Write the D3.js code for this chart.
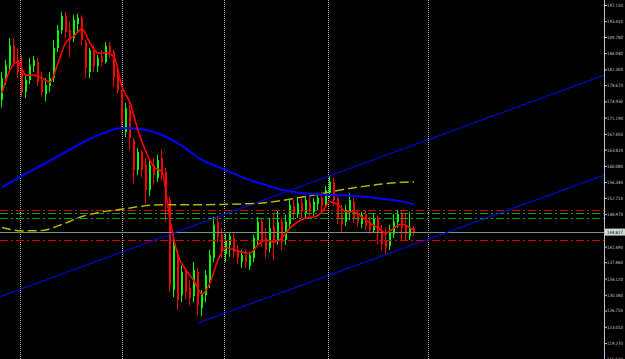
<!DOCTYPE html>
<html>
<head>
<meta charset="utf-8">
<script src="https://d3js.org/d3.v7.min.js"></script>
<style>
  html, body { margin: 0; padding: 0; background: #000; }
  svg { display: block; }
</style>
</head>
<body>
<div id="chart"></div>
<script>
"use strict";

// price bars (one entry per bar)
var open = [175.3,179.9,183.1,187.9,184.5,182.2,177.1,179.9,183.1,184.0,
  179.9,176.6,178.5,180.3,187.2,191.4,194.6,191.4,189.5,192.8,
  194.2,188.6,181.7,186.8,183.1,185.4,184.0,187.7,186.3,180.8,
  177.1,167.9,173.0,166.0,159.1,163.3,160.3,154.5,160.3,157.3,
  161.9,158.7,152.2,131.5,138.9,130.3,135.6,131.9,130.1,135.6,
  127.3,130.3,133.8,138.9,147.2,144.2,139.8,141.9,143.5,140.7,
  137.9,139.5,137.0,138.9,143.0,147.2,143.5,141.2,146.2,143.0,
  147.2,143.0,146.7,150.8,149.0,151.5,149.0,151.8,149.5,151.3,
  152.7,151.3,154.1,156.4,152.7,148.8,147.2,149.5,151.8,148.5,
  146.7,149.0,146.7,145.3,148.1,144.8,143.0,141.6,144.4,147.2,
  149.0,146.2,143.9,145.8];
var high = [181.7,184.5,189.5,189.5,187.2,185.6,181.0,184.9,185.4,184.9,
  181.7,180.3,181.7,189.1,192.5,195.5,195.5,193.2,194.8,195.1,
  194.8,189.1,187.2,187.9,185.6,186.8,188.6,188.6,186.8,182.9,
  177.6,174.6,174.1,166.5,164.2,163.7,161.9,161.4,161.9,162.6,
  163.7,159.6,152.9,143.7,140.7,137.2,136.6,133.8,137.9,136.6,
  131.5,136.1,140.7,148.3,148.5,145.8,144.4,144.8,144.8,141.9,
  140.7,140.7,140.2,144.2,148.3,148.1,145.8,148.1,149.0,149.9,
  148.1,148.8,152.2,152.2,152.7,152.7,153.1,153.1,152.7,153.4,
  154.1,155.4,157.8,157.3,153.1,151.1,151.1,153.8,152.7,149.9,
  149.5,149.9,148.3,149.2,148.8,146.5,145.8,146.5,149.0,149.9,
  149.9,149.0,149.5,146.2];
var low = [173.6,178.7,182.2,183.1,180.3,176.0,175.7,178.9,181.7,178.5,
  176.0,175.0,177.1,179.4,186.3,190.5,189.5,185.2,188.6,190.9,
  187.9,180.3,180.3,181.7,181.7,183.1,183.6,184.9,178.3,176.9,
  169.0,166.7,163.7,156.1,158.0,157.5,151.5,153.1,155.7,156.4,
  156.8,147.2,131.0,129.9,126.9,128.7,129.2,128.0,128.7,125.7,
  125.5,128.7,131.9,137.9,142.5,138.9,137.9,139.1,138.9,137.5,
  136.6,136.6,136.1,137.9,141.9,141.4,138.9,140.2,138.4,141.9,
  140.7,141.9,145.8,147.6,148.1,148.1,148.1,148.5,148.5,149.9,
  149.5,150.4,152.7,150.8,146.7,144.8,146.2,147.6,146.9,146.2,
  145.8,145.3,144.4,144.8,141.9,140.7,139.8,140.7,143.5,145.8,
  143.0,143.0,143.0,143.9];
var close = [180.3,183.3,187.9,184.0,181.7,177.1,179.9,183.3,184.5,179.4,
  177.1,178.7,180.3,187.2,191.4,194.6,190.9,189.1,193.7,194.2,
  189.1,182.6,186.8,183.1,184.9,184.0,187.7,186.3,180.3,177.6,
  170.2,173.4,166.5,159.1,163.3,159.1,154.5,160.3,158.0,161.4,
  158.7,152.2,132.6,141.9,129.2,135.6,131.0,129.6,136.1,128.0,
  130.8,134.9,139.5,146.5,143.5,140.2,143.0,143.9,140.2,138.9,
  139.5,137.9,139.5,143.5,147.2,143.0,140.7,145.8,143.0,147.2,
  142.5,147.2,151.1,149.0,151.5,149.5,152.2,149.5,151.8,152.7,
  150.8,154.5,156.4,152.2,148.1,146.5,149.9,152.2,148.1,147.2,
  148.8,146.2,145.3,148.1,144.8,142.1,141.2,144.8,147.2,149.0,
  145.8,144.4,145.8,144.83];

// indicator lines, [bar, price]
var maFast = [[0,176.9],[2,182.2],[4,184.0],[6,181.0],[8,181.0],[10,180.3],[12,179.4],[14,183.8],
  [16,188.6],[18,190.0],[20,191.6],[22,188.4],[24,186.1],[26,186.1],[28,185.2],[30,178.3],
  [32,174.6],[34,168.3],[36,163.3],[38,159.8],[40,158.7],[42,147.6],[44,139.5],[46,136.1],
  [48,133.6],[50,130.6],[52,133.1],[54,138.4],[56,141.2],[58,140.7],[60,140.2],[62,140.0],
  [64,141.9],[66,143.0],[68,142.5],[70,143.5],[72,145.8],[74,147.2],[76,148.1],[78,148.3],
  [80,149.5],[82,151.8],[84,151.1],[86,149.5],[88,149.5],[90,148.3],[92,146.9],[94,145.8],
  [96,144.6],[98,145.8],[100,146.7],[102,145.8],[103,145.3]];
var maSlow = [[0,155.2],[5,157.8],[10,160.3],[15,162.8],[20,165.4],[25,167.5],[30,168.8],
  [35,168.5],[40,167.2],[45,164.7],[50,161.4],[55,159.5],[60,157.5],[65,155.9],[70,154.6],
  [75,153.8],[80,153.5],[85,153.3],[90,153.0],[95,152.5],[100,151.9],[103,151.2]];
var maLong = [[0,145.9],[5,145.1],[10,145.2],[15,146.6],[20,148.4],[25,149.5],[30,150.1],
  [35,150.8],[40,151.1],[45,151.1],[50,151.1],[55,151.2],[60,151.3],[65,151.5],[70,152.1],
  [75,152.9],[80,153.7],[85,154.6],[90,155.3],[95,155.9],[100,156.3],[103,156.4]];

var redLevels = [149.8, 142.9];
var greenLevels = [149.2, 148.0];
var bidPrice = 144.827;

var upperTrend = [[0,130.1],[100,163.9]];
var lowerTrend = [[49,123.9],[100,141.0]];

var gridBars = [4.6, 30, 55.5, 81.4, 106.6];

var priceTicks = [197.15,193.41,189.78,186.04,182.30,178.67,174.93,171.19,167.45,163.82,
  160.08,156.34,152.71,148.97,141.49,137.86,134.12,130.38,126.75,123.01,119.27,115.53];

var width = 625, height = 359, plotRight = 604;

var x = d3.scaleLinear().domain([0, 103]).range([2, 414]);
var y = d3.scaleLinear().domain([119.27, 197.15]).range([343, 5]);

var svg = d3.select("#chart").append("svg")
    .attr("width", width)
    .attr("height", height)
    .style("background", "#000");

svg.append("defs").append("clipPath")
    .attr("id", "plot")
    .append("rect")
    .attr("x", 0).attr("y", 0)
    .attr("width", plotRight).attr("height", height);

var plot = svg.append("g").attr("clip-path", "url(#plot)");

// time separators
plot.selectAll("line.grid")
    .data(gridBars)
    .enter().append("line")
    .attr("class", "grid")
    .attr("x1", function(d) { return Math.round(x(d)) + 0.5; })
    .attr("x2", function(d) { return Math.round(x(d)) + 0.5; })
    .attr("y1", 0).attr("y2", height)
    .attr("stroke", "#b8b8b8")
    .attr("stroke-dasharray", "1,1");

var bars = d3.range(close.length).map(function(i) {
  return {i: i, o: open[i], h: high[i], l: low[i], c: close[i]};
});

function barColor(d) { return d.c >= d.o ? "#00ff00" : "#ff0000"; }

plot.selectAll("line.wick")
    .data(bars)
    .enter().append("line")
    .attr("class", "wick")
    .attr("x1", function(d) { return Math.round(x(d.i)) - 0.5; })
    .attr("x2", function(d) { return Math.round(x(d.i)) - 0.5; })
    .attr("y1", function(d) { return y(d.h); })
    .attr("y2", function(d) { return y(d.l); })
    .attr("stroke", barColor)
    .attr("stroke-width", 1);

plot.selectAll("rect.body")
    .data(bars)
    .enter().append("rect")
    .attr("class", "body")
    .attr("x", function(d) { return Math.round(x(d.i)) - 1; })
    .attr("width", 2)
    .attr("y", function(d) { return y(Math.max(d.o, d.c)); })
    .attr("height", function(d) { return Math.max(1, Math.abs(y(d.o) - y(d.c))); })
    .attr("fill", barColor);

// horizontal levels
function hline(price, color, dash) {
  plot.append("line")
      .attr("x1", 0).attr("x2", plotRight)
      .attr("y1", Math.round(y(price)) + 0.5)
      .attr("y2", Math.round(y(price)) + 0.5)
      .attr("stroke", color)
      .attr("stroke-width", 1)
      .attr("stroke-dasharray", dash);
}
redLevels.forEach(function(p) { hline(p, "#e00000", "8,3,2,3"); });
greenLevels.forEach(function(p) { hline(p, "#00a800", "8,3,2,3"); });
hline(bidPrice, "#6f9a6f", null);

// trend lines, extended to the right edge
function trend(pts, extendLeft) {
  var slope = (pts[1][1] - pts[0][1]) / (pts[1][0] - pts[0][0]);
  var b0 = extendLeft ? x.invert(0) : pts[0][0];
  var b1 = x.invert(plotRight);
  plot.append("line")
      .attr("x1", x(b0)).attr("y1", y(pts[0][1] + slope * (b0 - pts[0][0])))
      .attr("x2", x(b1)).attr("y2", y(pts[0][1] + slope * (b1 - pts[0][0])))
      .attr("stroke", "#0000ff")
      .attr("stroke-width", 1);
}
trend(upperTrend, true);
trend(lowerTrend, false);

var line = d3.line()
    .x(function(d) { return x(d[0]); })
    .y(function(d) { return y(d[1]); })
    .curve(d3.curveMonotoneX);

plot.append("path").datum(maLong)
    .attr("d", line)
    .attr("fill", "none")
    .attr("stroke", "#b8b400")
    .attr("stroke-width", 1.5)
    .attr("stroke-dasharray", "9,4");

plot.append("path").datum(maSlow)
    .attr("d", line)
    .attr("fill", "none")
    .attr("stroke", "#0000ff")
    .attr("stroke-width", 2);

plot.append("path").datum(maFast)
    .attr("d", line)
    .attr("fill", "none")
    .attr("stroke", "#ff0000")
    .attr("stroke-width", 1.6);

// price scale
svg.append("line")
    .attr("x1", plotRight + 0.5).attr("x2", plotRight + 0.5)
    .attr("y1", 0).attr("y2", height)
    .attr("stroke", "#c0c0c0");

var yAxis = d3.axisRight(y)
    .tickValues(priceTicks)
    .tickFormat(d3.format(".3f"))
    .tickSize(2)
    .tickPadding(0);

var gY = svg.append("g")
    .attr("transform", "translate(" + (plotRight + 1) + ",0)")
    .call(yAxis);
gY.select(".domain").remove();
gY.selectAll(".tick line").attr("stroke", "#c0c0c0");
gY.selectAll(".tick text")
    .attr("fill", "#c8c8c8")
    .attr("textLength", 16)
    .attr("lengthAdjust", "spacingAndGlyphs")
    .style("font-family", "'DejaVu Sans', sans-serif")
    .style("font-size", "4.5px");

var bidY = y(bidPrice);
svg.append("rect")
    .attr("x", plotRight + 1).attr("y", bidY - 3.5)
    .attr("width", width - plotRight - 1).attr("height", 7)
    .attr("fill", "#d0d8d0");
svg.append("text")
    .attr("x", plotRight + 3).attr("y", bidY)
    .attr("dy", "0.35em")
    .attr("fill", "#000")
    .attr("textLength", 16)
    .attr("lengthAdjust", "spacingAndGlyphs")
    .style("font-family", "'DejaVu Sans', sans-serif")
    .style("font-size", "4.5px")
    .text(d3.format(".3f")(bidPrice));
</script>
</body>
</html>
